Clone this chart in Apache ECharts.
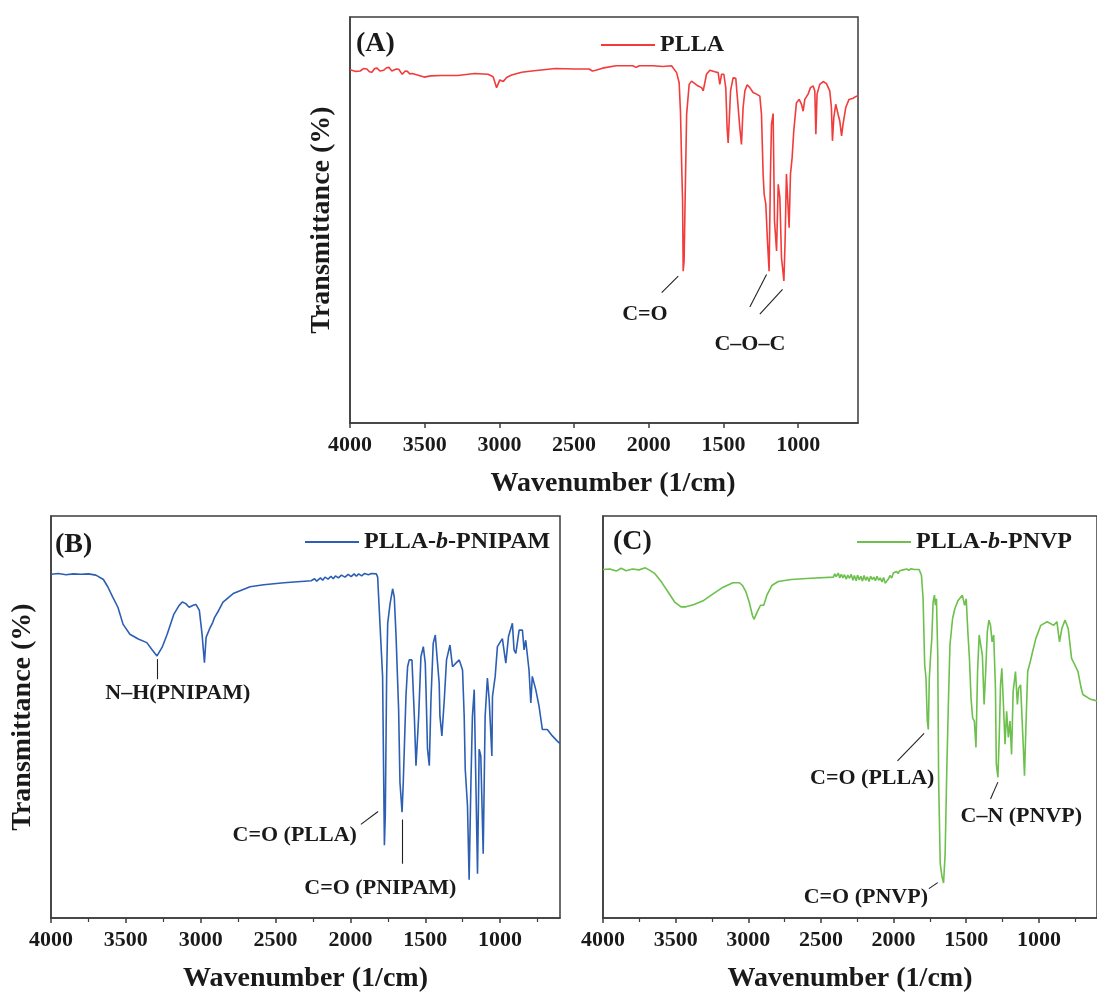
<!DOCTYPE html>
<html>
<head>
<meta charset="utf-8">
<title>FTIR spectra</title>
<script src="https://cdn.jsdelivr.net/npm/echarts@6/dist/echarts.min.js"></script>
<style>
  html, body { margin: 0; padding: 0; background: #fff; }
  #chart { width: 1097px; height: 994px; }
</style>
</head>
<body>
<div id="chart"></div>
<script>
// Wavenumber tick labels (1/cm), axis runs high -> low
const majorTicks = [4000, 3500, 3000, 2500, 2000, 1500, 1000];
const minorTicks = [3750, 3250, 2750, 2250, 1750, 1250, 750];

const seriesNames = ['PLLA', 'PLLA-b-PNIPAM', 'PLLA-b-PNVP'];

// [wavenumber (1/cm), transmittance (%)]
const pllaSpectrum = [
  [4000,87.0],[3993,87.0],[3960,86.6],[3932,86.7],[3910,87.3],[3887,87.2],[3870,86.5],[3853,86.4],
  [3835,87.3],[3819,87.4],[3800,86.7],[3774,86.9],[3755,87.5],[3740,87.6],[3720,86.7],[3707,86.6],
  [3690,87.2],[3673,87.1],[3660,86.4],[3650,85.9],[3630,86.7],[3616,86.6],[3600,86.0],[3583,86.1],
  [3538,85.6],[3504,85.2],[3459,85.5],[3391,85.6],[3279,85.6],[3166,86.1],[3076,85.9],[3042,85.3],
  [3019,82.6],[2997,84.5],[2974,84.1],[2952,85.1],[2918,85.7],[2851,86.4],[2783,86.7],[2625,87.3],
  [2490,87.2],[2400,87.2],[2378,86.7],[2355,86.9],[2310,87.4],[2220,88.0],[2107,88.0],[2085,87.6],
  [2062,88.0],[1972,88.0],[1905,87.8],[1848,88.0],[1837,88.0],[1814,86.3],[1797,83.8],[1788,76.4],
  [1779,61.7],[1774,54.7],[1770,37.4],[1764,39.9],[1757,55.1],[1747,76.0],[1730,83.4],[1714,84.2],
  [1692,83.6],[1670,83.0],[1647,82.6],[1636,81.8],[1614,85.9],[1592,86.9],[1558,86.5],[1536,86.3],
  [1525,83.4],[1513,85.9],[1498,85.9],[1485,82.6],[1476,72.7],[1469,69.0],[1462,74.4],[1453,81.8],
  [1436,85.0],[1418,84.9],[1402,77.7],[1391,72.7],[1380,68.6],[1369,77.7],[1357,81.8],[1342,83.3],
  [1324,82.6],[1302,81.4],[1279,81.0],[1257,80.5],[1246,76.0],[1235,61.3],[1228,56.3],[1217,53.9],
  [1206,44.8],[1195,37.4],[1186,61.3],[1179,73.6],[1168,76.2],[1159,49.8],[1145,42.4],[1134,58.8],
  [1123,55.5],[1112,40.7],[1096,35.0],[1088,44.8],[1079,61.3],[1070,54.7],[1061,48.1],[1052,61.3],
  [1041,65.3],[1030,71.9],[1012,78.9],[994,79.7],[978,78.5],[967,76.8],[956,79.7],[934,81.0],
  [918,82.6],[900,83.0],[889,81.8],[882,71.1],[874,81.0],[856,83.4],[833,84.1],[811,83.6],
  [789,81.8],[778,77.7],[771,69.5],[762,75.2],[749,78.5],[733,76.0],[722,74.4],[710,70.7],
  [700,73.6],[682,77.7],[660,79.7],[633,80.0],[610,80.5],[600,80.6]
];

const pnipamSpectrum = [
  [4000,85.5],[3950,85.7],[3900,85.4],[3850,85.6],[3800,85.5],[3750,85.6],[3700,85.3],[3650,84.2],
  [3621,82.4],[3590,80.0],[3553,77.3],[3519,73.1],[3473,70.6],[3417,69.4],[3360,68.5],[3326,66.8],
  [3292,65.2],[3258,67.3],[3224,70.6],[3179,75.6],[3145,77.7],[3123,78.6],[3100,78.2],[3077,77.3],
  [3050,77.8],[3032,78.0],[3009,76.5],[2991,70.6],[2975,63.5],[2964,69.8],[2941,71.9],[2920,73.5],
  [2907,74.8],[2880,76.5],[2851,78.6],[2783,80.7],[2670,82.4],[2579,82.9],[2443,83.4],[2262,83.9],
  [2240,84.4],[2225,83.8],[2200,84.6],[2185,84.0],[2170,84.8],[2149,84.3],[2130,85.0],[2115,84.4],
  [2100,85.1],[2080,84.6],[2060,85.3],[2036,84.8],[2015,85.5],[1995,84.9],[1975,85.6],[1960,85.0],
  [1945,85.6],[1925,85.1],[1905,85.7],[1880,85.4],[1860,85.7],[1827,85.6],[1818,84.8],
  [1807,76.5],[1796,76.5],[1785,60.1],[1773,18.1],[1767,25.5],[1758,60.1],[1751,73.3],[1735,78.2],
  [1718,81.9],[1707,79.8],[1695,70.0],[1678,51.9],[1669,33.7],[1655,26.3],[1647,33.7],[1640,42.0],
  [1629,55.1],[1618,62.5],[1607,64.2],[1589,64.2],[1573,50.2],[1562,37.9],[1551,45.3],[1544,50.2],
  [1529,65.0],[1513,67.5],[1500,63.4],[1495,56.8],[1485,42.0],[1473,37.9],[1462,54.3],[1447,68.3],
  [1433,70.4],[1418,63.4],[1407,58.4],[1402,50.2],[1389,45.3],[1373,54.3],[1358,64.2],[1335,67.9],
  [1318,62.5],[1295,63.4],[1273,64.2],[1251,61.7],[1240,50.2],[1233,37.0],[1218,28.0],[1207,9.5],
  [1195,33.7],[1185,50.2],[1173,56.8],[1162,33.7],[1151,11.0],[1140,42.0],[1129,40.3],[1113,16.0],
  [1100,50.2],[1085,59.7],[1073,54.3],[1055,40.3],[1051,55.1],[1033,60.1],[1018,67.5],[985,69.5],
  [962,63.4],[944,70.0],[918,73.3],[907,66.7],[895,65.8],[873,71.6],[851,71.6],[840,66.7],
  [829,69.1],[807,61.7],[795,53.5],[785,60.1],[762,56.8],[740,52.7],[718,46.9],[685,46.9],
  [651,45.3],[618,44.0],[600,43.4]
];

const pnvpSpectrum = [
  [4000,86.7],[3953,86.8],[3909,86.3],[3875,87.0],[3842,86.4],[3797,86.8],[3752,86.6],[3708,87.1],
  [3674,86.4],[3641,85.6],[3596,83.5],[3552,81.1],[3507,78.6],[3463,77.4],[3429,77.4],[3373,78.0],
  [3307,79.0],[3240,80.7],[3173,82.3],[3106,83.4],[3061,83.4],[3039,82.7],[3017,81.2],[2994,78.6],
  [2972,75.3],[2961,74.3],[2939,76.1],[2916,77.8],[2894,77.8],[2872,80.3],[2838,82.7],[2794,83.7],
  [2704,84.2],[2571,84.5],[2414,84.8],[2405,85.6],[2395,84.9],[2381,85.8],[2370,84.6],[2360,85.5],
  [2348,84.6],[2338,85.4],[2326,84.3],[2315,85.3],[2303,84.5],[2292,85.5],[2280,84.0],[2270,85.2],
  [2258,83.9],[2248,85.3],[2236,84.1],[2225,85.0],[2214,83.8],[2203,85.2],[2192,84.0],[2181,84.9],
  [2169,83.7],[2158,85.0],[2147,84.2],[2136,84.8],[2125,83.9],[2114,85.0],[2103,84.0],[2092,84.6],
  [2080,83.6],[2069,84.7],[2058,83.3],[2047,83.0],[2036,84.3],[2025,85.2],[2013,84.6],[2002,85.8],
  [1990,85.4],[1980,86.2],[1969,85.7],[1958,86.4],[1946,86.0],[1935,86.6],[1924,86.2],[1910,86.8],
  [1895,86.5],[1880,86.9],[1857,86.7],
  [1824,86.7],[1808,85.2],[1797,79.4],[1786,63.0],[1777,59.7],[1768,49.0],[1761,46.9],[1754,59.7],
  [1745,65.4],[1737,69.5],[1728,78.6],[1719,80.3],[1712,77.8],[1705,79.4],[1696,65.4],[1690,34.2],
  [1679,13.6],[1667,10.3],[1656,8.7],[1645,16.1],[1634,36.6],[1623,53.1],[1612,67.9],[1594,74.5],
  [1578,77.0],[1556,79.0],[1527,80.3],[1511,77.8],[1500,79.4],[1489,71.2],[1478,64.6],[1467,54.7],
  [1456,49.8],[1444,49.0],[1433,42.4],[1422,61.3],[1411,70.4],[1400,67.9],[1389,65.4],[1377,53.1],
  [1366,61.3],[1355,71.2],[1344,74.1],[1333,72.8],[1322,68.7],[1311,70.4],[1299,57.2],[1293,38.3],
  [1282,35.0],[1273,44.9],[1264,58.0],[1255,62.1],[1244,53.1],[1233,43.2],[1222,51.4],[1210,44.9],
  [1199,49.0],[1188,40.7],[1177,56.4],[1161,61.3],[1148,53.1],[1139,57.2],[1126,58.0],[1110,44.9],
  [1099,35.4],[1088,49.0],[1077,61.3],[1059,63.8],[1043,66.3],[1021,69.5],[987,72.8],[943,73.7],
  [898,72.8],[876,73.7],[858,68.7],[842,72.0],[820,74.1],[798,72.0],[775,64.6],[753,63.0],
  [731,61.3],[709,57.2],[697,55.6],[650,54.5],[600,54.0]
];

// Band assignments: label centre and leader segments, in [wavenumber, %T]
const pllaNotes = [
  { text: 'C=O', at: [2026, 26.8], leaders: [[[1803, 36.2], [1914, 32.1]]] },
  { text: 'C–O–C', at: [1324, 19.5], leaders: [[[1212, 36.6], [1324, 28.6]], [[1105, 32.9], [1257, 26.8]]] }
];
const pnipamNotes = [
  { text: 'N–H(PNIPAM)', at: [3153, 56.0], leaders: [[[3293, 64.4], [3293, 59.4]]] },
  { text: 'C=O (PLLA)', at: [2372, 20.5], leaders: [[[1930, 23.3], [1815, 26.5]]] },
  { text: 'C=O (PNIPAM)', at: [1800, 7.5], leaders: [[[1652, 24.5], [1652, 13.5]]] }
];
const pnvpNotes = [
  { text: 'C=O (PLLA)', at: [2147, 34.8], leaders: [[[1790, 45.9], [1973, 39.1]]] },
  { text: 'C=O (PNVP)', at: [2191, 5.1], leaders: [[[1696, 8.8], [1757, 7.3]]] },
  { text: 'C–N (PNVP)', at: [1121, 25.3], leaders: [[[1282, 33.8], [1333, 29.6]]] }
];

const FONT = "'Liberation Serif', 'Times New Roman', serif";
const INK = '#1a1a1a';
const FRAME = '#3c3c3c';
const colors = ['#f23b3b', '#2c5fb3', '#6cc04b'];

const grids = [
  { left: 350, top: 17, width: 508, height: 406 },
  { left: 51, top: 516, width: 509, height: 404 },
  { left: 603, top: 516, width: 508, height: 404 }
];

function xAxes(gi, nameShift) {
  const main = {
    gridIndex: gi, type: 'value', inverse: true, min: 600, max: 4000, position: 'bottom',
    axisLine: { show: true, lineStyle: { color: FRAME, width: 1.5 } },
    axisTick: { show: true, length: 5, customValues: majorTicks, lineStyle: { color: FRAME, width: 1.5 } },
    axisLabel: {
      customValues: majorTicks, margin: 11, color: INK, formatter: v => String(v),
      fontFamily: FONT, fontWeight: 'bold', fontSize: 22
    },
    splitLine: { show: false },
    name: 'Wavenumber (1/cm)', nameLocation: 'middle', nameGap: 47,
    nameTextStyle: {
      fontFamily: FONT, fontWeight: 'bold', fontSize: 28, color: INK,
      padding: [0, 0, 0, nameShift]
    }
  };
  const list = [main];
  if (gi > 0) {
    list.push({
      gridIndex: gi, type: 'value', inverse: true, min: 600, max: 4000, position: 'bottom',
      axisLine: { show: false },
      axisTick: { show: true, length: 4, customValues: minorTicks, lineStyle: { color: FRAME, width: 1.2 } },
      axisLabel: { show: false },
      splitLine: { show: false }
    });
  }
  return list;
}

function yAxis(gi, withName) {
  return {
    gridIndex: gi, type: 'value', min: 0, max: 100,
    axisLine: { show: true, lineStyle: { color: FRAME, width: 1.5 } },
    axisTick: { show: false }, axisLabel: { show: false }, splitLine: { show: false },
    name: withName ? 'Transmittance (%)' : '', nameLocation: 'middle', nameGap: 14, nameRotate: 90,
    nameTextStyle: { fontFamily: FONT, fontWeight: 'bold', fontSize: 28, color: INK }
  };
}

function noteMarks(notes) {
  return {
    markLine: {
      silent: true, symbol: ['none', 'none'], animation: false,
      label: { show: false },
      lineStyle: { color: '#222', width: 1.1, type: 'solid' },
      emphasis: { disabled: true },
      data: notes.flatMap(n => n.leaders.map(seg => [{ coord: seg[0] }, { coord: seg[1] }]))
    },
    markPoint: {
      silent: true, symbol: 'circle', symbolSize: 1, animation: false,
      itemStyle: { color: 'rgba(0,0,0,0)' },
      label: {
        show: true, position: 'inside', formatter: p => p.name,
        fontFamily: FONT, fontWeight: 'bold', fontSize: 22, color: INK
      },
      data: notes.map(n => ({ name: n.text, coord: n.at }))
    }
  };
}

const xAxisList = [].concat(xAxes(0, 18), xAxes(1, 0), xAxes(2, 0));
// main x axis index per grid: 0, 1 (minor at 2), 3 (minor at 4)
const mainX = [0, 1, 3];

const spectra = [pllaSpectrum, pnipamSpectrum, pnvpSpectrum];
const notes = [pllaNotes, pnipamNotes, pnvpNotes];

const series = spectra.map((d, i) => Object.assign({
  name: seriesNames[i], type: 'line', data: d,
  xAxisIndex: mainX[i], yAxisIndex: i,
  symbol: 'none', showSymbol: false, clip: true,
  lineStyle: { color: colors[i], width: 1.6 },
  itemStyle: { color: colors[i] },
  silent: true, animation: false
}, noteMarks(notes[i])));

const legendText = {
  fontFamily: FONT, fontWeight: 'bold', fontSize: 24, color: INK,
  rich: { i: { fontFamily: FONT, fontWeight: 'bold', fontStyle: 'italic', fontSize: 24, color: INK } }
};
const legendPos = [[601, 33], [305, 530], [857, 530]];
const legends = seriesNames.map((nm, i) => ({
  data: [nm], left: legendPos[i][0], top: legendPos[i][1], padding: 0,
  icon: 'rect', itemWidth: 54, itemHeight: 2, selectedMode: false,
  textStyle: legendText,
  formatter: n => n.replace('-b-', '-{i|b}-')
}));

const tags = [['(A)', 356, 30], ['(B)', 55, 531], ['(C)', 613, 528]].map(t => ({
  type: 'text', left: t[1], top: t[2], silent: true,
  style: { text: t[0], font: "bold 28px 'Liberation Serif', 'Times New Roman', serif", fill: INK }
}));

const chart = echarts.init(document.getElementById('chart'), null, { renderer: 'canvas' });
chart.setOption({
  animation: false,
  backgroundColor: '#ffffff',
  grid: grids.map(g => Object.assign({ show: true, borderColor: FRAME, borderWidth: 1.5, backgroundColor: 'transparent' }, g)),
  xAxis: xAxisList,
  yAxis: [yAxis(0, true), yAxis(1, true), yAxis(2, false)],
  legend: legends,
  series: series,
  graphic: tags
});
</script>
</body>
</html>
